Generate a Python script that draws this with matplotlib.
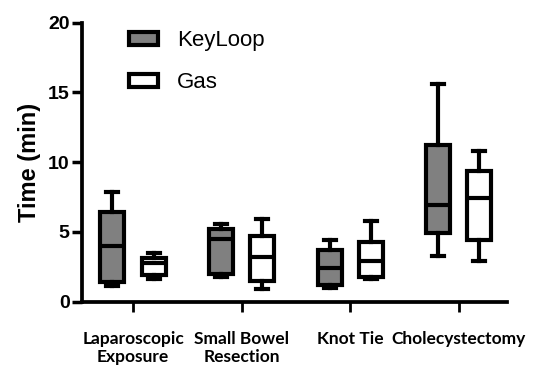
import matplotlib.pyplot as plt
from matplotlib.patches import Patch

# values (minutes)
tasks = ['Laparoscopic\nExposure', 'Small Bowel\nResection', 'Knot Tie', 'Cholecystectomy']
keyloop_min = [1.1, 1.8, 1.0, 3.3]
keyloop_q1 = [1.4, 2.0, 1.2, 4.9]
keyloop_med = [4.0, 4.5, 2.4, 6.9]
keyloop_q3 = [6.4, 5.2, 3.7, 11.2]
keyloop_max = [7.9, 5.6, 4.4, 15.6]

gas_min = [1.6, 0.9, 1.6, 2.9]
gas_q1 = [1.9, 1.5, 1.8, 4.4]
gas_med = [2.8, 3.2, 2.9, 7.4]
gas_q3 = [3.1, 4.7, 4.3, 9.4]
gas_max = [3.5, 5.9, 5.8, 10.8]

plt.rcParams['font.family'] = ['Liberation Sans', 'DejaVu Sans']

fig = plt.figure(figsize=(5.34, 3.67), dpi=100)
ax = fig.add_axes([0.1536, 0.178, 0.795, 0.76])

def make_stats(lo, q1, med, q3, hi):
    return [dict(whislo=a, q1=b, med=c, q3=d, whishi=e, fliers=[])
            for a, b, c, d, e in zip(lo, q1, med, q3, hi)]

lw = 3.0
x = list(range(len(tasks)))
for stats, offs, col in [(make_stats(keyloop_min, keyloop_q1, keyloop_med, keyloop_q3, keyloop_max), -0.19, '#808080'),
                         (make_stats(gas_min, gas_q1, gas_med, gas_q3, gas_max), 0.19, 'white')]:
    ax.bxp(stats, positions=[i + offs for i in x], widths=0.22, patch_artist=True,
           showfliers=False, manage_ticks=False,
           boxprops=dict(facecolor=col, edgecolor='black', linewidth=lw),
           medianprops=dict(color='black', linewidth=lw),
           whiskerprops=dict(color='black', linewidth=lw),
           capprops=dict(color='black', linewidth=lw),
           capwidths=0.11)

ax.set_xlim(-0.47, 3.44)
ax.set_ylim(0, 20)
ax.set_yticks([0, 5, 10, 15, 20])
ax.set_xticks(x)
ax.set_xticklabels(tasks, fontsize=12.5, fontweight='bold', family=['Lato', 'DejaVu Sans'],
                   linespacing=1.15)
ax.tick_params(axis='y', labelsize=14, width=2.5, length=7, pad=2)
ax.tick_params(axis='x', width=2, length=7, pad=14)
for lab in ax.get_yticklabels():
    lab.set_fontweight('bold')
ax.set_ylabel('Time (min)', fontsize=17, fontweight='bold', labelpad=5)

for s in ['top', 'right']:
    ax.spines[s].set_visible(False)
for s in ['left', 'bottom']:
    ax.spines[s].set_linewidth(2.7)

handles = [Patch(facecolor='#808080', edgecolor='black', linewidth=lw, label='KeyLoop'),
           Patch(facecolor='white', edgecolor='black', linewidth=lw, label='Gas')]
ax.legend(handles=handles, loc='upper left', bbox_to_anchor=(0.064, 1.045), frameon=False,
          fontsize=16, handlelength=1.3, handleheight=0.55, handletextpad=0.85, labelspacing=0.95)

fig.savefig('out.png', dpi=100)
